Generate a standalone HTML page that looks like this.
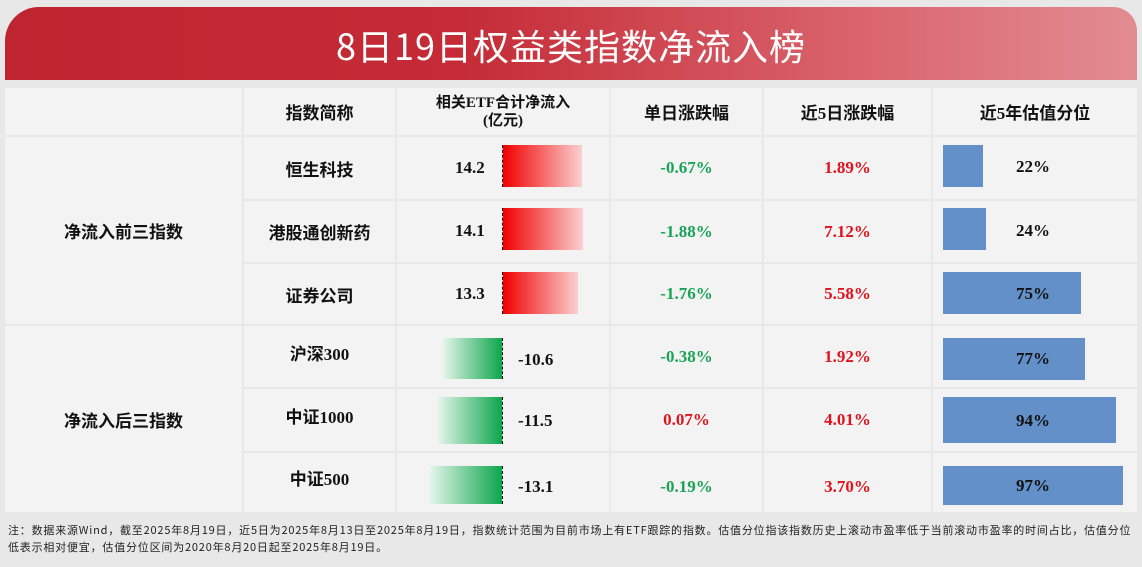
<!DOCTYPE html>
<html><head><meta charset="utf-8"><style>
*{margin:0;padding:0;box-sizing:border-box}
body{width:1142px;height:567px;background:#e8e8e8;position:relative;overflow:hidden;font-family:"Liberation Serif","Noto Serif CJK SC",serif}
.ban{position:absolute;left:5px;top:7px;width:1132px;height:73px;border-radius:34px 24px 0 0;background:linear-gradient(90deg,#bf2530 0%,#c42b36 40%,#d9636c 75%,#e28c92 100%)}
.ban span{position:absolute;left:0;right:0;top:12px;text-align:center;color:#fff;font:36px "Noto Sans CJK SC",sans-serif;letter-spacing:1px}
.c{position:absolute;background:#f3f3f3;display:flex;align-items:center;justify-content:center;font-weight:bold;font-size:17px;color:#111;font-family:"Liberation Serif","Noto Sans CJK SC",sans-serif;text-align:center}
.n{position:absolute;font-weight:bold;font-size:17px;color:#111}
.g{color:#1aa356}.r{color:#e0121c}
.rb{position:absolute;left:502px;height:42px;background:linear-gradient(90deg,#f00000,#fbd0d0);border-left:1px dashed #000}
.gb{position:absolute;height:42px;background:linear-gradient(90deg,#e4f5ea,#0ca64c);border-right:1px dashed #000}
.bb{position:absolute;left:943px;height:42px;background:#6490c9}
.pv{position:absolute;left:1000px;width:66px;text-align:center;font-weight:bold;font-size:17px;color:#111}
.ft{position:absolute;left:8px;top:522px;width:1140px;font:11px "Noto Sans CJK SC",sans-serif;color:#222;line-height:17px;white-space:nowrap;letter-spacing:0.8px}
</style></head><body>
<div class="ban"><span>8日19日权益类指数净流入榜</span></div>

<div class="c" style="left:5px;top:88px;width:237px;height:47px"></div>
<div class="c" style="left:244px;top:88px;width:151px;height:47px">指数简称</div>
<div class="c" style="left:397px;top:88px;width:212px;height:47px;font-size:15px;line-height:18px"><div>相关ETF合计净流入<br>(亿元)</div></div>
<div class="c" style="left:611px;top:88px;width:151px;height:47px">单日涨跌幅</div>
<div class="c" style="left:764px;top:88px;width:167px;height:47px">近5日涨跌幅</div>
<div class="c" style="left:933px;top:88px;width:204px;height:47px">近5年估值分位</div>

<div class="c" style="left:5px;top:137px;width:237px;height:187px">净流入前三指数</div>
<div class="c" style="left:5px;top:326px;width:237px;height:186px">净流入后三指数</div>

<div class="c" style="left:244px;top:137px;width:151px;height:62px">恒生科技</div>
<div class="c" style="left:244px;top:201px;width:151px;height:61px">港股通创新药</div>
<div class="c" style="left:244px;top:264px;width:151px;height:60px">证券公司</div>
<div class="c" style="left:244px;top:326px;width:151px;height:61px;padding-bottom:8px">沪深300</div>
<div class="c" style="left:244px;top:389px;width:151px;height:62px;padding-bottom:10px">中证1000</div>
<div class="c" style="left:244px;top:453px;width:151px;height:59px;padding-bottom:10px">中证500</div>

<div class="c" style="left:397px;top:137px;width:212px;height:62px"></div>
<div class="c" style="left:397px;top:201px;width:212px;height:61px"></div>
<div class="c" style="left:397px;top:264px;width:212px;height:60px"></div>
<div class="c" style="left:397px;top:326px;width:212px;height:61px"></div>
<div class="c" style="left:397px;top:389px;width:212px;height:62px"></div>
<div class="c" style="left:397px;top:453px;width:212px;height:59px"></div>

<div class="c g" style="left:611px;top:137px;width:151px;height:62px">-0.67%</div>
<div class="c g" style="left:611px;top:201px;width:151px;height:61px">-1.88%</div>
<div class="c g" style="left:611px;top:264px;width:151px;height:60px">-1.76%</div>
<div class="c g" style="left:611px;top:326px;width:151px;height:61px">-0.38%</div>
<div class="c r" style="left:611px;top:389px;width:151px;height:62px">0.07%</div>
<div class="c g" style="left:611px;top:453px;width:151px;height:59px;padding-top:8px">-0.19%</div>

<div class="c r" style="left:764px;top:137px;width:167px;height:62px">1.89%</div>
<div class="c r" style="left:764px;top:201px;width:167px;height:61px">7.12%</div>
<div class="c r" style="left:764px;top:264px;width:167px;height:60px">5.58%</div>
<div class="c r" style="left:764px;top:326px;width:167px;height:61px">1.92%</div>
<div class="c r" style="left:764px;top:389px;width:167px;height:62px">4.01%</div>
<div class="c r" style="left:764px;top:453px;width:167px;height:59px;padding-top:8px">3.70%</div>

<div class="c" style="left:933px;top:137px;width:204px;height:62px"></div>
<div class="c" style="left:933px;top:201px;width:204px;height:61px"></div>
<div class="c" style="left:933px;top:264px;width:204px;height:60px"></div>
<div class="c" style="left:933px;top:326px;width:204px;height:61px"></div>
<div class="c" style="left:933px;top:389px;width:204px;height:62px"></div>
<div class="c" style="left:933px;top:453px;width:204px;height:59px"></div>

<div class="rb" style="top:145px;width:80px"></div>
<div class="rb" style="top:208px;width:81px"></div>
<div class="rb" style="top:272px;width:76px"></div>
<div class="n" style="left:455px;top:158px">14.2</div>
<div class="n" style="left:455px;top:221px">14.1</div>
<div class="n" style="left:455px;top:284px">13.3</div>

<div class="gb" style="left:443px;top:338px;width:60px;height:41px"></div>
<div class="gb" style="left:438px;top:397px;width:65px;height:47px"></div>
<div class="gb" style="left:430px;top:466px;width:73px;height:38px"></div>
<div class="n" style="left:518px;top:350px">-10.6</div>
<div class="n" style="left:518px;top:411px">-11.5</div>
<div class="n" style="left:518px;top:477px">-13.1</div>

<div class="bb" style="top:145px;width:40px"></div>
<div class="bb" style="top:208px;width:43px"></div>
<div class="bb" style="top:272px;width:138px"></div>
<div class="bb" style="top:338px;width:142px"></div>
<div class="bb" style="top:397px;width:173px;height:46px"></div>
<div class="bb" style="top:466px;width:180px;height:39px"></div>
<div class="pv" style="top:157px">22%</div>
<div class="pv" style="top:221px">24%</div>
<div class="pv" style="top:284px">75%</div>
<div class="pv" style="top:349px">77%</div>
<div class="pv" style="top:411px">94%</div>
<div class="pv" style="top:476px">97%</div>

<div class="ft">注：数据来源Wind，截至2025年8月19日，近5日为2025年8月13日至2025年8月19日，指数统计范围为目前市场上有ETF跟踪的指数。估值分位指该指数历史上滚动市盈率低于当前滚动市盈率的时间占比，估值分位<br>低表示相对便宜，估值分位区间为2020年8月20日起至2025年8月19日。</div>
</body></html>
